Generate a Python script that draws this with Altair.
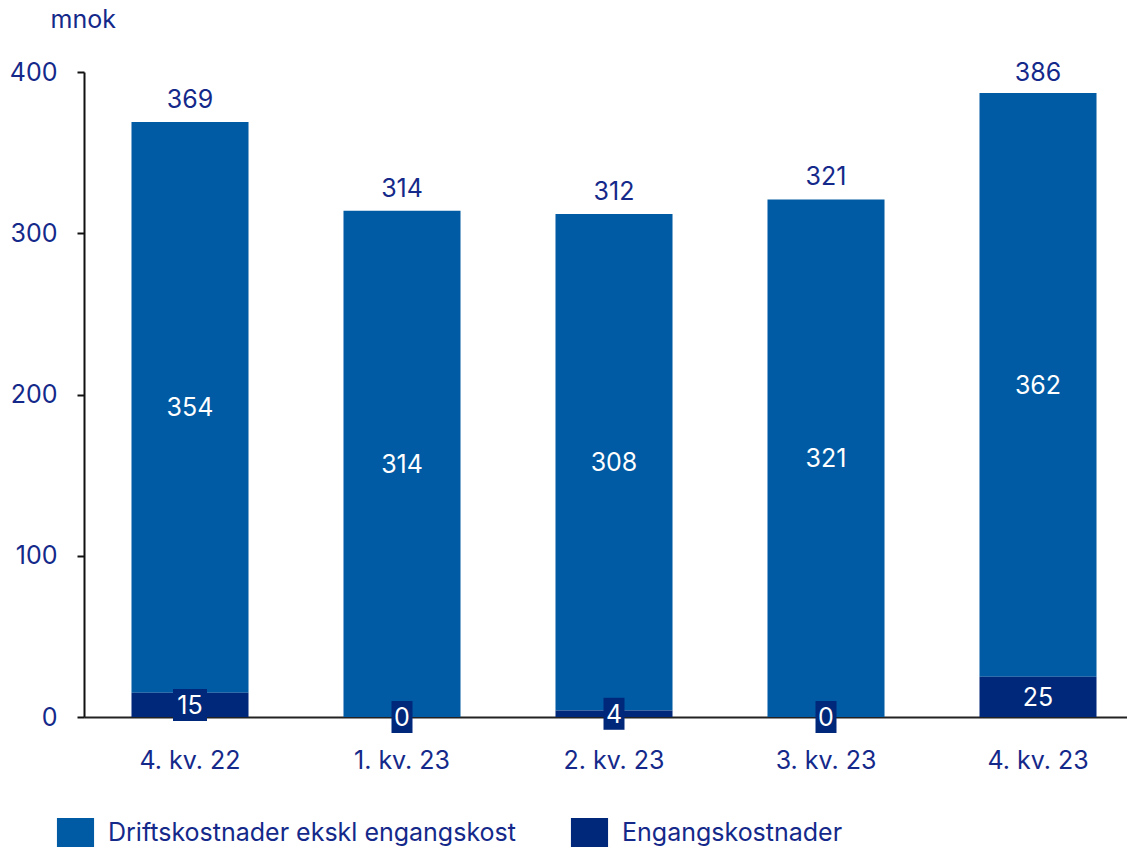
import altair as alt
import pandas as pd

quarters = ["4. kv. 22", "1. kv. 23", "2. kv. 23", "3. kv. 23", "4. kv. 23"]
drift = [354, 314, 308, 321, 362]
eng = [15, 0, 4, 0, 25]
total = [369, 314, 312, 321, 386]
series = ["Driftskostnader ekskl engangskost", "Engangskostnader"]

FONT = "Inter"
FS = 25
NAVY = "#14298a"
LIGHT = "#005ba4"
DARK = "#00287a"

long_rows = []
for q, d, e in zip(quarters, drift, eng):
    long_rows.append({"quarter": q, "series": series[0], "value": d, "ord": 1})
    long_rows.append({"quarter": q, "series": series[1], "value": e, "ord": 0})
long_df = pd.DataFrame(long_rows)
wide_df = pd.DataFrame({"quarter": quarters, "drift": drift, "eng": eng, "total": total})

xenc = alt.X("quarter:N", sort=quarters,
             scale=alt.Scale(range=[0, 1060], paddingInner=0.448, paddingOuter=0.224),
             axis=alt.Axis(title=None, labelAngle=0, ticks=False, labelPadding=31,
                           labelFontSize=FS, labelColor=NAVY, labelFont=FONT,
                           domainColor="#222222", domainWidth=2))
yscale = alt.Scale(domain=[0, 400], nice=False)

bars = alt.Chart(long_df).mark_bar().encode(
    x=xenc,
    y=alt.Y("value:Q", stack="zero", scale=yscale,
            axis=alt.Axis(values=[0, 100, 200, 300, 400], grid=False, tickSize=7,
                          tickColor="#111111", tickWidth=2, domainColor="#111111",
                          domainWidth=2, labelPadding=20, labelFontSize=FS,
                          labelColor=NAVY, labelFont=FONT,
                          title="mnok", titleAngle=0, titleX=-34, titleY=-45,
                          titleAlign="left", titleBaseline="alphabetic",
                          titleFontSize=FS, titleFontWeight="normal",
                          titleColor=NAVY, titleFont=FONT)),
    color=alt.Color("series:N", scale=alt.Scale(domain=series, range=[LIGHT, DARK]),
                    legend=alt.Legend(title=None, orient="none", direction="horizontal",
                                      legendX=-23, legendY=746,
                                      symbolType="M-1.28,-1H1.28V1H-1.28Z",
                                      symbolSize=841, symbolStrokeWidth=0,
                                      labelFontSize=FS, labelColor=NAVY, labelFont=FONT,
                                      labelLimit=0,
                                      labelOffset=18, columnPadding=54, padding=0)),
    order=alt.Order("ord:Q", sort="ascending"),
)

base = alt.Chart(wide_df).encode(x=alt.X("quarter:N", sort=quarters))

totals = base.mark_text(fontSize=FS, font=FONT, color=NAVY, baseline="alphabetic", dy=-14).encode(
    y=alt.Y("total:Q", scale=yscale), text=alt.Text("total:Q"))

drift_lbl = base.transform_calculate(mid="datum.eng + datum.drift / 2").mark_text(
    fontSize=FS, font=FONT, color="white", baseline="middle", dy=1).encode(
    y=alt.Y("mid:Q", scale=yscale), text=alt.Text("drift:Q"))

boxes = base.transform_calculate(
    emid="datum.eng / 2",
    hw="(length(toString(datum.eng)) * 13 + 8) / 2",
    box="'M' + (-datum.hw) + ',-16H' + datum.hw + 'V16H' + (-datum.hw) + 'Z'",
).mark_point(filled=True, size=4, opacity=1, strokeWidth=0, color=DARK).encode(
    y=alt.Y("emid:Q", scale=yscale), shape=alt.Shape("box:N", scale=None, legend=None))

eng_lbl = base.transform_calculate(emid="datum.eng / 2").mark_text(
    fontSize=FS, font=FONT, color="white", baseline="middle", dy=1).encode(
    y=alt.Y("emid:Q", scale=yscale), text=alt.Text("eng:Q"))

chart = alt.layer(bars, totals, drift_lbl, boxes, eng_lbl).properties(
    width=1043, height=645,
    autosize=alt.AutoSizeParams(type="none"),
    padding={"left": 76, "top": 64, "right": 0, "bottom": 133},
).configure_view(stroke=None)

chart.save("out.html", embed_options={"renderer": "svg", "actions": False})
